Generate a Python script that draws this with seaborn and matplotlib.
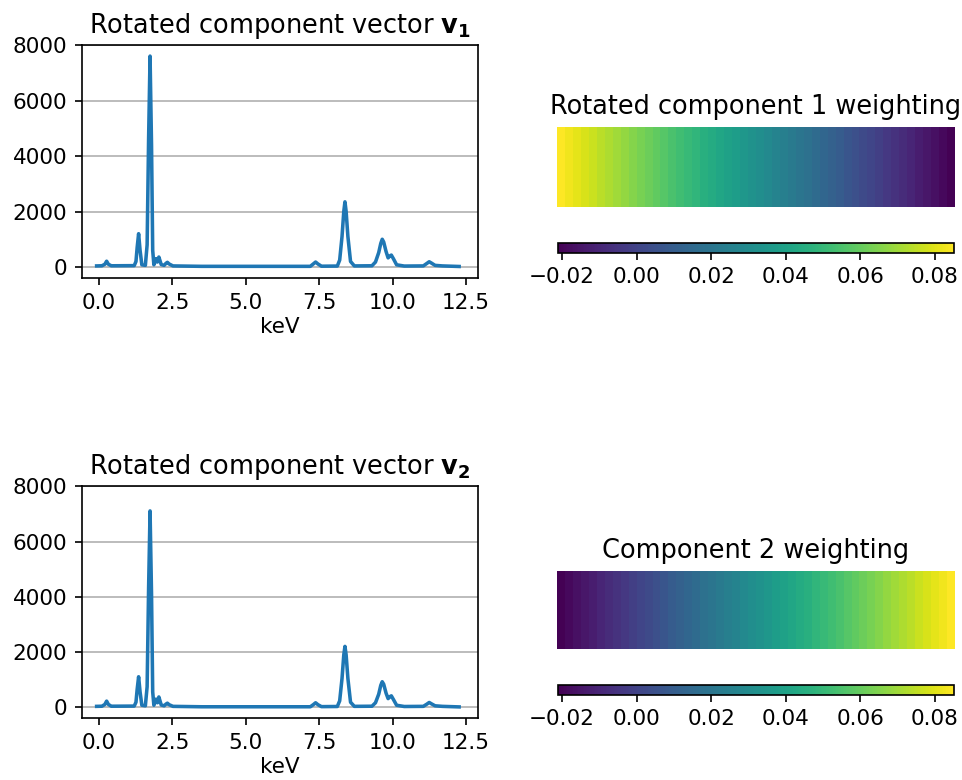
import numpy as np
import matplotlib
matplotlib.use("Agg")
import matplotlib.pyplot as plt
import seaborn as sns

# ---------------- data ----------------
energy_kev = [-0.08, 0.10, 0.20, 0.26, 0.32, 0.42, 1.20, 1.26, 1.30, 1.35, 1.40, 1.46,
              1.58, 1.64, 1.69, 1.74, 1.79, 1.83, 1.87, 1.94, 1.99, 2.04, 2.12, 2.22,
              2.28, 2.33, 2.39, 2.52, 3.50, 7.20, 7.30, 7.38, 7.46, 7.58, 8.12, 8.20,
              8.28, 8.34, 8.38, 8.42, 8.48, 8.57, 8.70, 9.30, 9.42, 9.53, 9.60, 9.65,
              9.70, 9.78, 9.85, 9.91, 9.96, 10.03, 10.14, 10.40, 11.05, 11.17, 11.25,
              11.33, 11.45, 11.70, 12.27]

counts_v1 = [40, 45, 100, 210, 100, 45, 50, 200, 700, 1200, 600, 80,
             60, 800, 4600, 7600, 4400, 600, 80, 300, 180, 360, 90, 60,
             130, 170, 110, 40, 25, 25, 110, 180, 110, 30, 35, 250,
             1100, 2000, 2350, 2000, 1100, 200, 40, 45, 180, 520, 850, 1000,
             900, 560, 330, 400, 430, 300, 80, 35, 40, 130, 190,
             140, 60, 40, 20]

counts_v2 = [40, 45, 110, 230, 110, 45, 50, 190, 650, 1110, 560, 80,
             60, 750, 4300, 7110, 4100, 560, 80, 300, 170, 380, 90, 60,
             120, 155, 100, 40, 25, 25, 100, 170, 100, 30, 35, 240,
             1050, 1900, 2210, 1900, 1050, 190, 40, 45, 170, 480, 800, 930,
             840, 520, 320, 390, 420, 290, 80, 35, 40, 120, 180,
             130, 60, 40, 20]

weights_c1 = [0.0851, 0.0830, 0.0807, 0.0786, 0.0764, 0.0742, 0.0721, 0.0699, 0.0677, 0.0656,
              0.0634, 0.0612, 0.0591, 0.0569, 0.0547, 0.0526, 0.0504, 0.0482, 0.0461, 0.0439,
              0.0417, 0.0396, 0.0374, 0.0352, 0.0331, 0.0309, 0.0287, 0.0266, 0.0244, 0.0222,
              0.0201, 0.0179, 0.0157, 0.0136, 0.0114, 0.0092, 0.0071, 0.0049, 0.0027, 0.0006,
              -0.0016, -0.0038, -0.0059, -0.0081, -0.0103, -0.0124, -0.0146, -0.0168, -0.0189, -0.0211]

weights_c2 = [-0.0211, -0.0189, -0.0168, -0.0146, -0.0124, -0.0103, -0.0081, -0.0059, -0.0038, -0.0016,
              0.0006, 0.0027, 0.0049, 0.0071, 0.0092, 0.0114, 0.0136, 0.0157, 0.0179, 0.0201,
              0.0222, 0.0244, 0.0266, 0.0287, 0.0309, 0.0331, 0.0352, 0.0374, 0.0396, 0.0417,
              0.0439, 0.0461, 0.0482, 0.0504, 0.0526, 0.0547, 0.0569, 0.0591, 0.0612, 0.0634,
              0.0656, 0.0677, 0.0699, 0.0721, 0.0742, 0.0764, 0.0786, 0.0807, 0.0830, 0.0851]

vec_titles = [r"Rotated component vector $\mathbf{v_1}$",
              r"Rotated component vector $\mathbf{v_2}$"]
weight_titles = ["Rotated component 1 weighting", "Component 2 weighting"]
x_label = "keV"
cbar_ticks = [-0.02, 0.0, 0.02, 0.04, 0.06, 0.08]
cbar_ticklabels = ['\u22120.02', '0.00', '0.02', '0.04', '0.06', '0.08']

# ---------------- figure ----------------
plt.rcParams['font.family'] = ['DejaVu Sans']
plt.rcParams['xtick.labelsize'] = 10.3
plt.rcParams['ytick.labelsize'] = 10.3
plt.rcParams['axes.labelsize'] = 10.3
fig = plt.figure(figsize=(962 / 150, 780 / 150), dpi=150)

vmin = min(min(weights_c1), min(weights_c2))
vmax = max(max(weights_c1), max(weights_c2))

line_axes = [fig.add_axes([0.0852, 0.6436, 0.4116, 0.2987]),
             fig.add_axes([0.0852, 0.0790, 0.4116, 0.2975])]
heat_axes = [fig.add_axes([0.5790, 0.7346, 0.4137, 0.1026]),
             fig.add_axes([0.5790, 0.1680, 0.4137, 0.1000])]
cbar_axes = [fig.add_axes([0.5800, 0.6760, 0.4116, 0.0128]),
             fig.add_axes([0.5800, 0.1094, 0.4116, 0.0128])]

for ax, counts, title in zip(line_axes, [counts_v1, counts_v2], vec_titles):
    sns.lineplot(x=energy_kev, y=counts, ax=ax, color="#1f77b4", linewidth=1.7)
    ax.set_xlim(-0.58, 12.91)
    ax.set_ylim(-395, 8000)
    ax.set_xticks([0.0, 2.5, 5.0, 7.5, 10.0, 12.5])
    ax.set_yticks([0, 2000, 4000, 6000, 8000])
    ax.grid(axis='y', color='#b0b0b0', linewidth=0.8)
    ax.set_axisbelow(True)
    ax.set_title(title, fontsize=12.3)
    ax.set_xlabel(x_label, labelpad=2)
    ax.set_ylabel("")

for hax, cax, w, title in zip(heat_axes, cbar_axes, [weights_c1, weights_c2], weight_titles):
    data = np.array(w)[None, :]
    sns.heatmap(data, ax=hax, cbar_ax=cax, cmap="viridis", vmin=vmin, vmax=vmax,
                xticklabels=False, yticklabels=False,
                cbar_kws={"orientation": "horizontal", "ticks": cbar_ticks})
    cb = hax.collections[0].colorbar
    cb.outline.set_linewidth(0.8)
    cb.outline.set_edgecolor('black')
    cb.ax.set_xticklabels(cbar_ticklabels)
    cb.ax.tick_params(labelsize=10.3)
    hax.set_title(title, fontsize=12.3)

fig.savefig("out.png", dpi=150)
